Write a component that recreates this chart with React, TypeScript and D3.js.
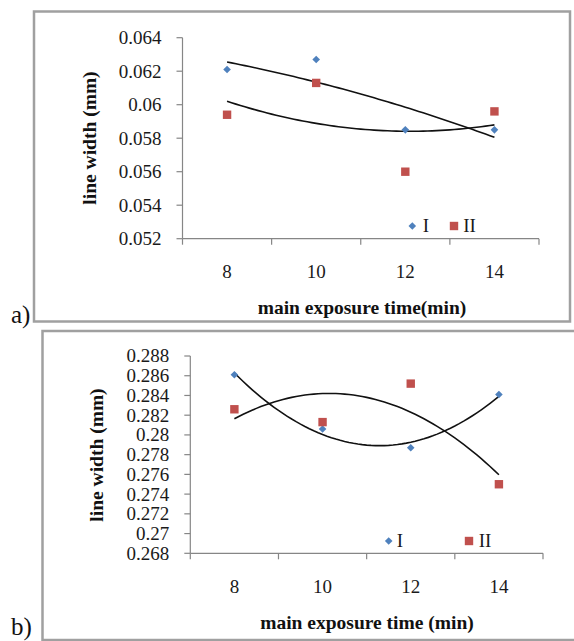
import React from "react";
import * as d3 from "d3";

const categories = [8, 10, 12, 14];

const aSeriesI = [0.0621, 0.0627, 0.0585, 0.0585];
const aSeriesII = [0.0594, 0.0613, 0.056, 0.0596];
const aTicks = [0.052, 0.054, 0.056, 0.058, 0.06, 0.062, 0.064];

const bSeriesI = [0.2861, 0.2806, 0.2787, 0.2841];
const bSeriesII = [0.2826, 0.2813, 0.2852, 0.275];
const bTicks = [0.268, 0.27, 0.272, 0.274, 0.276, 0.278, 0.28, 0.282, 0.284, 0.286, 0.288];

const seriesNames = ["I", "II"];
const FONT = "'Liberation Serif', 'Times New Roman', serif";
const BLUE = "#4F81BD";
const RED = "#C0504D";
const AXIS = "#868686";

// quadratic least squares fit on category index (1..n)
function quadFit(ys: number[]) {
  const xs = ys.map((_, i) => i + 1);
  const n = xs.length;
  const s = [0, 0, 0, 0, 0];
  const t = [0, 0, 0];
  for (let i = 0; i < n; i++) {
    const x = xs[i];
    for (let k = 0; k < 5; k++) s[k] += Math.pow(x, k);
    for (let k = 0; k < 3; k++) t[k] += ys[i] * Math.pow(x, k);
  }
  const M = [
    [s[0], s[1], s[2], t[0]],
    [s[1], s[2], s[3], t[1]],
    [s[2], s[3], s[4], t[2]],
  ];
  for (let c = 0; c < 3; c++) {
    for (let r = c + 1; r < 3; r++) {
      const f = M[r][c] / M[c][c];
      for (let k = c; k < 4; k++) M[r][k] -= f * M[c][k];
    }
  }
  const coef = [0, 0, 0];
  for (let r = 2; r >= 0; r--) {
    let v = M[r][3];
    for (let k = r + 1; k < 3; k++) v -= M[r][k] * coef[k];
    coef[r] = v / M[r][r];
  }
  return (x: number) => coef[0] + coef[1] * x + coef[2] * x * x;
}

type PanelProps = {
  left: number;
  right: number;
  top: number;
  bottom: number;
  ticks: number[];
  s1: number[];
  s2: number[];
  tickFmt: (v: number) => string;
  xTitle: string;
  xTitleX: number;
  yTitleX: number;
  yTitleY: number;
  legend: { dx: number; dy: number; tx1: number; sx: number; tx2: number };
};

function Panel(p: PanelProps) {
  const n = categories.length;
  const x = d3.scaleLinear().domain([0.5, n + 0.5]).range([p.left, p.right]);
  const y = d3
    .scaleLinear()
    .domain([p.ticks[0], p.ticks[p.ticks.length - 1]])
    .range([p.bottom, p.top]);
  const xTicks = d3.range(0.5, n + 1, 1);
  const fits = [quadFit(p.s1), quadFit(p.s2)];
  const samples = d3.range(1, n + 0.0001, 0.05);
  const paths = fits.map((f) =>
    d3
      .line<number>()
      .x((t) => x(t))
      .y((t) => y(f(t)))(samples)
  );
  const fs = 19;
  return (
    <g>
      <line x1={p.left} x2={p.left} y1={p.top} y2={p.bottom} stroke={AXIS} strokeWidth={1.2} />
      <line x1={p.left} x2={p.right} y1={p.bottom} y2={p.bottom} stroke={AXIS} strokeWidth={1.2} />
      {p.ticks.map((t) => (
        <g key={t}>
          <line x1={p.left - 6} x2={p.left} y1={y(t)} y2={y(t)} stroke={AXIS} strokeWidth={1.2} />
          <text
            x={p.left - 21}
            y={y(t)}
            dy="0.34em"
            textAnchor="end"
            fontFamily={FONT}
            fontSize={fs}
            fill="#1a1a1a"
          >
            {p.tickFmt(t)}
          </text>
        </g>
      ))}
      {xTicks.map((t) => (
        <line key={t} x1={x(t)} x2={x(t)} y1={p.bottom} y2={p.bottom + 6} stroke={AXIS} strokeWidth={1.2} />
      ))}
      {categories.map((c, i) => (
        <text
          key={c}
          x={x(i + 1)}
          y={p.bottom + 33}
          dy="0.34em"
          textAnchor="middle"
          fontFamily={FONT}
          fontSize={fs}
          fill="#1a1a1a"
        >
          {c}
        </text>
      ))}
      {paths.map((d, i) => (
        <path key={i} d={d || ""} fill="none" stroke="#111" strokeWidth={1.6} />
      ))}
      {p.s1.map((v, i) => {
        const cx = x(i + 1);
        const cy = y(v);
        const r = 3.8;
        return (
          <path
            key={"d" + i}
            d={`M${cx},${cy - r}L${cx + r},${cy}L${cx},${cy + r}L${cx - r},${cy}Z`}
            fill={BLUE}
          />
        );
      })}
      {p.s2.map((v, i) => {
        const cx = x(i + 1);
        const cy = y(v);
        const h = 4.2;
        return <rect key={"s" + i} x={cx - h} y={cy - h} width={2 * h} height={2 * h} fill={RED} />;
      })}
      <path
        d={`M${p.legend.dx},${p.legend.dy - 3.8}L${p.legend.dx + 3.8},${p.legend.dy}L${p.legend.dx},${
          p.legend.dy + 3.8
        }L${p.legend.dx - 3.8},${p.legend.dy}Z`}
        fill={BLUE}
      />
      <text x={p.legend.tx1} y={p.legend.dy} dy="0.34em" fontFamily={FONT} fontSize={fs} fill="#1a1a1a">
        {seriesNames[0]}
      </text>
      <rect x={p.legend.sx - 4.2} y={p.legend.dy - 4.2} width={8.4} height={8.4} fill={RED} />
      <text x={p.legend.tx2} y={p.legend.dy} dy="0.34em" fontFamily={FONT} fontSize={fs} fill="#1a1a1a">
        {seriesNames[1]}
      </text>
      <text
        x={p.xTitleX}
        y={p.bottom + 69}
        dy="0.34em"
        textAnchor="middle"
        fontFamily={FONT}
        fontSize={19.5}
        fontWeight="bold"
        fill="#111"
      >
        {p.xTitle}
      </text>
      <text
        transform={`translate(${p.yTitleX},${p.yTitleY}) rotate(-90)`}
        textAnchor="middle"
        dominantBaseline="central"
        fontFamily={FONT}
        fontSize={19.5}
        fontWeight="bold"
        fill="#111"
      >
        line width (mm)
      </text>
    </g>
  );
}

const fmt = (v: number) => String(+v.toFixed(3));

export default function App() {
  return (
    <svg
      width={574}
      height={641}
      style={{ position: "absolute", left: 0, top: 0, background: "#fff" }}
    >
      <rect x={0} y={0} width={574} height={641} fill="#fff" />
      <rect x={34} y={11.5} width={536} height={310} fill="none" stroke="#a0a0a0" strokeWidth={2.5} />
      <rect x={42.5} y={331} width={540} height={309} fill="none" stroke="#a0a0a0" strokeWidth={2.5} />
      <text x={11} y={323} fontFamily={FONT} fontSize={25} fill="#111">
        a)
      </text>
      <text x={11} y={635} fontFamily={FONT} fontSize={25} fill="#111">
        b)
      </text>
      <Panel
        left={182.5}
        right={539}
        top={37.7}
        bottom={238.7}
        ticks={aTicks}
        s1={aSeriesI}
        s2={aSeriesII}
        tickFmt={fmt}
        xTitle="main exposure time(min)"
        xTitleX={362}
        yTitleX={89}
        yTitleY={138}
        legend={{ dx: 412.3, dy: 226, tx1: 422.7, sx: 454, tx2: 463.3 }}
      />
      <Panel
        left={190.3}
        right={543}
        top={356}
        bottom={553.3}
        ticks={bTicks}
        s1={bSeriesI}
        s2={bSeriesII}
        tickFmt={fmt}
        xTitle="main exposure time (min)"
        xTitleX={367}
        yTitleX={96}
        yTitleY={455}
        legend={{ dx: 388.7, dy: 541, tx1: 396.8, sx: 469, tx2: 478.8 }}
      />
    </svg>
  );
}
